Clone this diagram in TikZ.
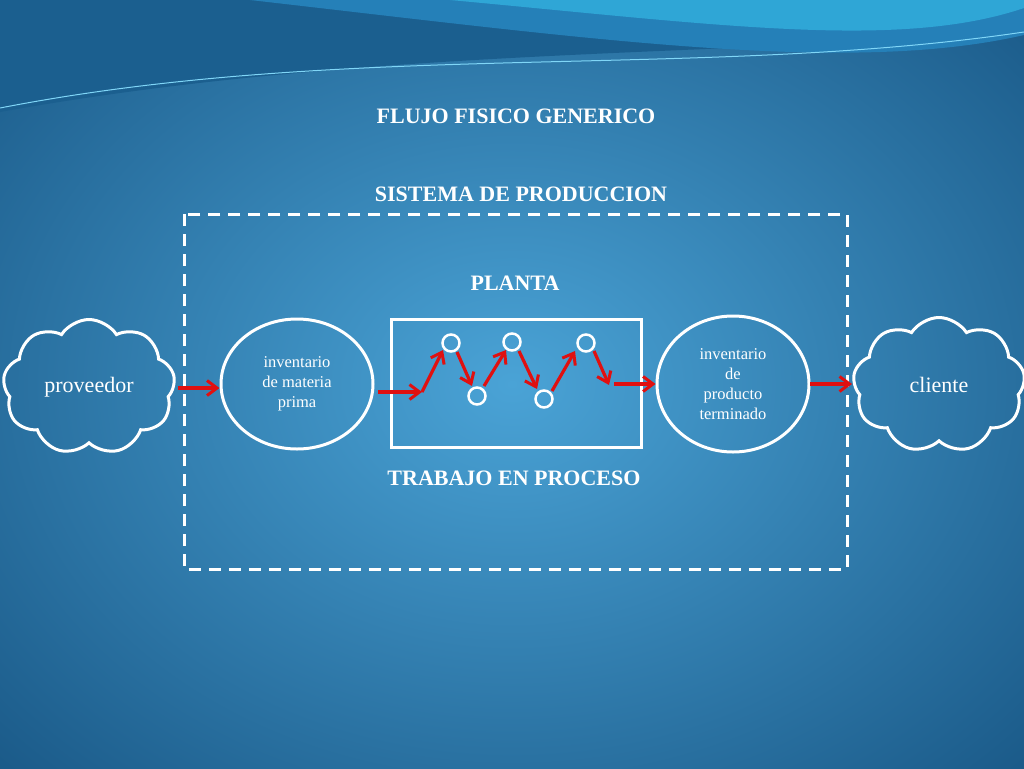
\documentclass[tikz,border=0pt]{standalone}
\usepackage{fontspec}
\setmainfont{Liberation Serif}
\usetikzlibrary{shapes.symbols,shapes.geometric,arrows.meta}
\definecolor{bgin}{HTML}{4AA3D6}
\definecolor{bgout}{HTML}{14507E}
\definecolor{wave0}{HTML}{1B5F8F}
\definecolor{wave1}{HTML}{2580B8}
\definecolor{wave2}{HTML}{2FA6D6}
\definecolor{arr}{HTML}{E01010}
\begin{document}
\begin{tikzpicture}[x=1pt,y=-1pt,
  wl/.style={draw=white,line width=3pt},
  ttl/.style={text=white,font=\bfseries\fontsize{22}{26}\selectfont},
  sm/.style={text=white,font=\fontsize{16.5}{20}\selectfont,align=center},
  dot/.style={circle,draw=white,line width=2.5pt,minimum size=17pt,inner sep=0pt},
  ra/.style={draw=arr,line width=3.2pt,-{Straight Barb[length=10pt,width=15pt,line width=3pt]}},
  cl/.style={cloud,cloud puffs=9,cloud puff arc=115,aspect=1.2,draw=white,line width=3pt,minimum width=172pt,minimum height=135pt,text=white,font=\fontsize{22}{26}\selectfont}]
\useasboundingbox (0,0) rectangle (1024,768);
\shade[inner color=bgin,outer color=bgout] (-300,-250) rectangle (1324,1018);
\fill[wave0] (0,0) -- (1024,0) -- (1024,25) .. controls (800,60) and (400,40) .. (0,112) -- cycle;
\fill[wave1] (250,0) -- (1024,0) -- (1024,35) .. controls (850,75) and (600,40) .. (250,0) -- cycle;
\fill[wave2] (450,0) -- (1024,0) -- (1024,8) .. controls (900,50) and (720,25) .. (450,0) -- cycle;
\draw[cyan!50,line width=1pt] (0,108) .. controls (350,40) and (700,80) .. (1024,32);
\node[ttl] (t1) at (516,116) {FLUJO FISICO GENERICO};
\node[ttl] (t2) at (521,194) {SISTEMA DE PRODUCCION};
\node[ttl] (t3) at (515,283) {PLANTA};
\node[ttl] (t4) at (514,478) {TRABAJO EN PROCESO};
\draw[wl,dash pattern=on 12pt off 8pt] (184,214) rectangle (847,569);
\draw[wl] (391,319) rectangle (641,447);
\node[wl,ellipse,minimum width=152pt,minimum height=130pt,sm] (mp) at (297,384) {inventario\\de materia\\prima};
\node[wl,ellipse,minimum width=152pt,minimum height=136pt,sm] (pt) at (733,384) {inventario\\de\\producto\\terminado};
\node[cl] (prov) at (89,387) {proveedor};
\node[cl] (cli) at (939,385) {cliente};
\node[dot] (c1) at (451,343) {};
\node[dot] (c2) at (477,396) {};
\node[dot] (c3) at (512,342) {};
\node[dot] (c4) at (544,399) {};
\node[dot] (c5) at (586,343) {};
\coordinate (a0) at (378,392);
\coordinate (a1) at (422,392);
\coordinate (a2) at (443,350);
\coordinate (b1) at (614,384);
\draw[ra] (178,388) -- (mp.west |- 0,388);
\draw[ra] (a0) -- (a1);
\draw[ra] (a1) -- (a2);
\draw[ra] (457,352) -- (472,386);
\draw[ra] (484,386) -- (506,350);
\draw[ra] (519,351) -- (537,389);
\draw[ra] (552,391) -- (575,351);
\draw[ra] (594,351) -- (609,385);
\draw[ra] (b1) -- (pt.west);
\draw[ra] (810,384) -- (852,384);
\end{tikzpicture}
\end{document}
